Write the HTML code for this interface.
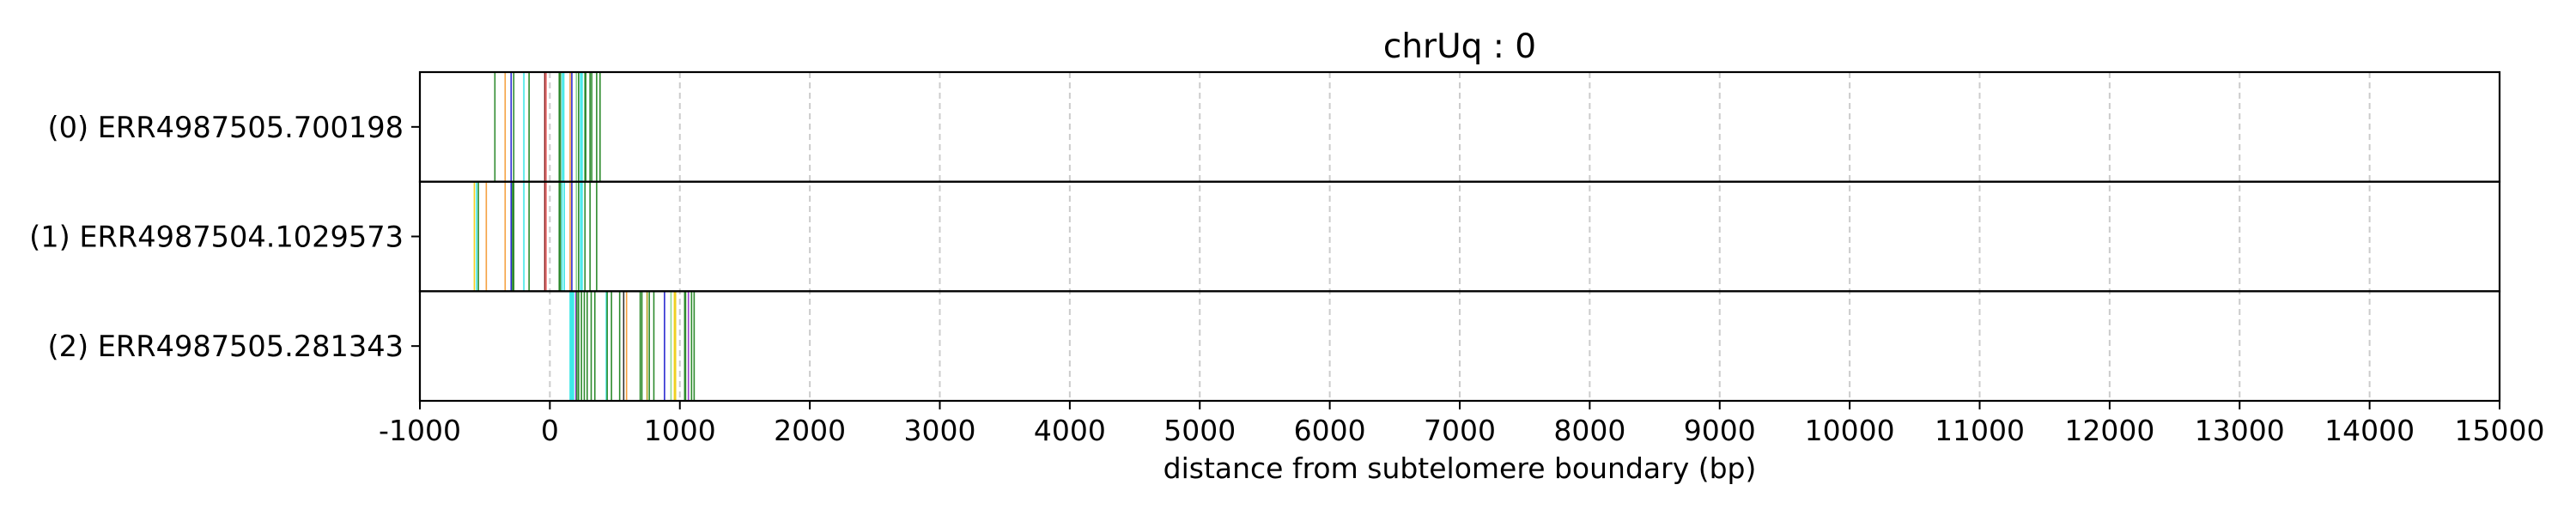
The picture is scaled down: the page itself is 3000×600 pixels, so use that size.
<!DOCTYPE html>
<html><head><meta charset="utf-8"><style>
html,body{margin:0;padding:0;background:#fff;}
svg{display:block;font-family:"DejaVu Sans","Liberation Sans",sans-serif;}
</style></head><body>
<svg id="chart" width="3000" height="600" viewBox="0 0 3000 600" xmlns="http://www.w3.org/2000/svg">
<g id="grid"></g>
<g id="marks"></g>
<g id="frame"></g>
<g id="axes"></g>
<text x="1700" y="67" font-size="39" text-anchor="middle">chrUq : 0</text>
<text x="1700" y="557" font-size="33" text-anchor="middle">distance from subtelomere boundary (bp)</text>
</svg>
<script>
const rowLabels = ["(0) ERR4987505.700198","(1) ERR4987504.1029573","(2) ERR4987505.281343"];
const xTicks = [-1000,0,1000,2000,3000,4000,5000,6000,7000,8000,9000,10000,11000,12000,13000,14000,15000];
const row0Pos = [-423,-344,-298,-278,-200,-160,-39,-29,72,81,96,107,156,169,204,221,237,248,270,276,309,322,360,386];
const row0Col = ["g","o","b","g","c","g","br","r","g","g","c","c","o","b","lg","g","c","c","g","g","g","g","g","g"];
const row1Pos = [-581,-564,-550,-489,-344,-298,-287,-278,-200,-160,-39,-29,72,81,94,111,156,169,204,221,237,248,270,309,360];
const row1Col = ["y","c","g","o","o","b","g","g","c","g","br","r","g","g","c","c","o","b","lg","g","c","c","g","g","g"];
const row2Pos = [156,162,169,176,182,200,208,221,243,265,287,318,346,434,441,474,537,568,590,695,708,748,765,800,882,932,958,967,1037,1044,1066,1090,1110];
const row2Col = ["c","c","c","c","c","p","g","g","g","g","g","g","g","c","g","g","g","k","o","g","g","ol","g","g","b","lg","y","y","g","g","p","g","g"];
const colorMap = {g:"#2e8b2e",o:"#f5a040",b:"#2a2ad0",c:"#40e8e8",br:"#8b2020",r:"#e87070",lg:"#90d890",y:"#f0d020",p:"#9a40d0",k:"#303030",ol:"#b0a020"};

const L=489,R=2911,T=84,B=467,xMin=-1000,xMax=15000;
const NS="http://www.w3.org/2000/svg";
function xs(v){return L+(v-xMin)/(xMax-xMin)*(R-L);}
const rowH=(B-T)/rowLabels.length;
function mk(tag,attrs,parent){const e=document.createElementNS(NS,tag);for(const k in attrs)e.setAttribute(k,attrs[k]);parent.appendChild(e);return e;}
const grid=document.getElementById('grid'),marks=document.getElementById('marks'),frame=document.getElementById('frame'),axes=document.getElementById('axes');
xTicks.forEach(t=>{
  const x=xs(t);
  const gl=mk('line',{x1:x,x2:x,y1:T,y2:B,stroke:"#cccccc","stroke-width":2,"stroke-dasharray":"7,5"},grid);
  
  
  const tk=mk('line',{x1:x,x2:x,y1:B,y2:B+10,stroke:"#000","stroke-width":2},axes);
  
  
  const tl=mk('text',{x:x,y:513,"font-size":33,"text-anchor":"middle"},axes);
  tl.textContent=t;
  
  
});
const rows=[[row0Pos,row0Col],[row1Pos,row1Col],[row2Pos,row2Col]];
rows.forEach((r,i)=>{
  const y0=T+i*rowH,y1=y0+rowH;
  r[0].forEach((v,j)=>{
    const x=xs(v);
    const ln=mk('line',{x1:x,x2:x,y1:y0,y2:y1,stroke:colorMap[r[1][j]]||"#2e8b2e","stroke-width":1.6},marks);
    
    
  });
  const rc=mk('rect',{x:L,y:y0,width:R-L,height:rowH,fill:"none",stroke:"#000","stroke-width":2.2},frame);
  
  
  const yc=(y0+y1)/2;
  const tk=mk('line',{x1:L-10,x2:L,y1:yc,y2:yc,stroke:"#000","stroke-width":2},axes);
  
  
  const tl=mk('text',{x:L-19,y:yc+12,"font-size":33.6,"text-anchor":"end"},axes);
  tl.textContent=rowLabels[i];
  
  
});
</script>
</body></html>
